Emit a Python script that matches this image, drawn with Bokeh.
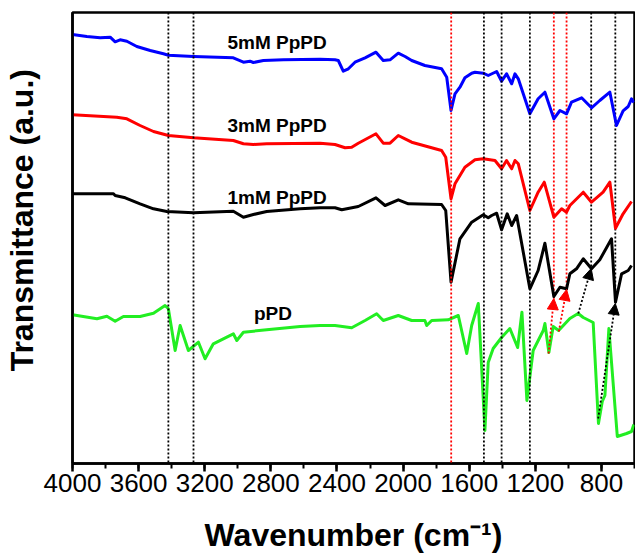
from bokeh.plotting import figure
from bokeh.models import Range1d, Span, Arrow, NormalHead, SingleIntervalTicker, FixedTicker
from bokeh.core.properties import value
from bokeh.embed import file_html
from bokeh.resources import INLINE

# ---- data (wavenumber cm-1, transmittance a.u. offset) ----
blue_w = [4000, 3913, 3833, 3772, 3742, 3712, 3671, 3611, 3530, 3450, 3420, 3268, 3027, 2966, 2926, 2906, 2845, 2724, 2502, 2412, 2392, 2362, 2331, 2291, 2230, 2164, 2120, 2079, 2029, 1988, 1948, 1868, 1767, 1736, 1710, 1686, 1656, 1626, 1585, 1565, 1515, 1485, 1434, 1404, 1374, 1343, 1323, 1303, 1233, 1183, 1142, 1088, 1051, 1011, 981, 920, 860, 810, 749, 709, 669, 638, 618, 604]
blue_t = [429, 427, 425.7, 426.3, 421.7, 423.7, 422.3, 417, 413, 409.7, 408.3, 407, 405.7, 401.3, 402.3, 401, 403, 403.7, 404.3, 403.7, 403, 392.3, 394.7, 401.3, 405.7, 411.3, 403, 403.7, 410.3, 407, 403, 398, 394.7, 386.3, 353, 369.7, 376.3, 385.7, 390.3, 391.3, 390.3, 388, 392, 382.3, 389.7, 379.7, 389.7, 384.7, 349.7, 364.7, 371.3, 344.7, 353, 349.7, 361.3, 365.7, 355.7, 363, 371.3, 338, 352.7, 357, 364.7, 361]

red_w = [4000, 3732, 3671, 3591, 3510, 3420, 3268, 3027, 2966, 2906, 2825, 2502, 2412, 2351, 2311, 2271, 2164, 2120, 2079, 2029, 1988, 1948, 1767, 1742, 1710, 1686, 1626, 1565, 1515, 1444, 1404, 1374, 1343, 1323, 1303, 1233, 1183, 1146, 1088, 1041, 1011, 991, 910, 860, 790, 749, 715, 669, 618]
red_t = [348.7, 346.3, 344.7, 338, 332, 328, 325.7, 323, 319.7, 319, 319.7, 320.3, 319, 315.7, 316.3, 320.3, 329.7, 320.3, 320.3, 328, 324.7, 321.3, 313, 306.3, 264.7, 279.7, 296.3, 303.7, 304.7, 303, 294.7, 303, 294.7, 303, 299.7, 253, 271.3, 281.3, 246.3, 254.7, 251.3, 258, 271.3, 261.3, 271.3, 281.3, 235.3, 249.7, 262]

black_w = [4000, 3752, 3742, 3681, 3591, 3510, 3429, 3268, 3027, 2966, 2906, 2825, 2623, 2502, 2412, 2371, 2271, 2164, 2109, 2029, 1968, 1767, 1742, 1710, 1656, 1585, 1515, 1485, 1464, 1434, 1404, 1370, 1343, 1313, 1233, 1183, 1142, 1088, 1051, 1011, 991, 951, 910, 860, 810, 739, 715, 678, 638, 618]
black_t = [269.7, 269.7, 268, 265.7, 259.7, 254.7, 252, 250.7, 252.3, 246.3, 249, 252, 254.7, 255.7, 255.7, 253.7, 257, 265.7, 258, 263.7, 259.7, 259, 253, 181.3, 224.7, 241.3, 248.7, 245.7, 248, 250.3, 233.7, 249.7, 238, 248, 174.7, 193, 220.3, 167, 176.3, 174.7, 189.7, 194.7, 204.7, 194.7, 203.7, 224.7, 161.3, 189.7, 193, 198]

green_w = [4000, 3852, 3792, 3742, 3692, 3591, 3510, 3440, 3420, 3379, 3349, 3299, 3238, 3198, 3148, 3027, 3006, 2966, 2825, 2623, 2502, 2412, 2311, 2230, 2160, 2120, 2029, 1948, 1868, 1857, 1827, 1727, 1666, 1615, 1585, 1545, 1505, 1485, 1455, 1404, 1354, 1307, 1281, 1251, 1213, 1152, 1142, 1118, 1092, 1059, 991, 941, 910, 850, 818, 795, 779, 755, 704, 648, 618, 604]
green_t = [148.7, 144.7, 147.3, 142.3, 147, 147, 150.3, 158, 154.7, 113, 138, 113, 121.3, 104.7, 119.7, 129.7, 123, 131.3, 133.7, 137, 138, 138, 135.7, 143, 149.7, 143, 148, 143, 143, 138, 143, 143.7, 148, 110, 138, 160, 33, 101, 115, 126, 135, 116, 151.3, 63, 113, 133, 140, 111, 137, 133, 145, 150, 146, 141, 40, 62, 68, 135, 27, 30, 32, 39]

series_names = ["5mM PpPD", "3mM PpPD", "1mM PpPD", "pPD"]
series_colors = ["#0000ff", "#ff0000", "#000000", "#22ee22"]
label_w = [2762, 2762, 2762, 2787]
label_t = [421, 338, 266, 150]

# guide lines (peak positions)
full_black = [3420, 3268, 1511, 1404, 1233]
full_red = [1709]
part_red_w = [1088, 1011]
part_red_bottom = [165, 174]
part_black_w = [862, 716]
part_black_bottom = [195, 160]

# arrows: tail on pPD curve -> head at PpPD band
arr_red_x0 = [1120, 1058]
arr_red_y0 = [110, 132]
arr_blk_x0 = [940, 820]
arr_blk_y0 = [150, 45]

YTOP = 451

p = figure(width=635, height=557, output_backend="svg", toolbar_location=None,
           x_range=Range1d(4000, 600), y_range=Range1d(0, YTOP),
           min_border_left=72, min_border_right=1, min_border_top=12, min_border_bottom=94)
p.background_fill_color = "white"
p.border_fill_color = "white"
p.xgrid.visible = False
p.ygrid.visible = False
p.outline_line_color = "black"
p.outline_line_width = 2.5
p.outline_line_alpha = 1

xa = p.xaxis[0]
xa.ticker = SingleIntervalTicker(interval=400, num_minor_ticks=2)
xa.axis_line_width = 2.5
xa.major_tick_line_width = 2.5
xa.minor_tick_line_width = 2
xa.major_tick_out = 8
xa.major_tick_in = 0
xa.minor_tick_out = 5
xa.minor_tick_in = 0
xa.major_label_standoff = 2
xa.major_label_text_font = "Liberation Sans"
xa.major_label_text_font_size = "26px"
xa.major_label_text_color = "black"
xa.axis_label = "Wavenumber (cm\u207b\u00b9)"
xa.axis_label_text_font = "Liberation Sans"
xa.axis_label_text_font_style = "bold"
xa.axis_label_text_font_size = "32px"
xa.axis_label_standoff = 22
xa.axis_label_text_color = "black"

ya = p.yaxis[0]
ya.ticker = FixedTicker(ticks=[])
ya.axis_line_width = 2.5
ya.major_tick_out = 0
ya.major_tick_in = 0
ya.minor_tick_out = 0
ya.minor_tick_in = 0
ya.major_label_standoff = 0
ya.axis_label = "\u00a0\u00a0\u00a0\u00a0Transmittance (a.u.)"
ya.axis_label_text_font = "Liberation Sans"
ya.axis_label_text_font_style = "bold"
ya.axis_label_text_font_size = "32px"
ya.axis_label_standoff = 33
ya.axis_label_text_color = "black"

# guide lines
for w in full_black:
    p.add_layout(Span(location=w, dimension="height", line_color="black",
                      line_dash="2 2", line_width=1.8))
for w in full_red:
    p.add_layout(Span(location=w, dimension="height", line_color="#ff0000",
                      line_dash="2 2", line_width=1.8))
p.segment(x0=part_red_w, y0=[YTOP] * len(part_red_w), x1=part_red_w, y1=part_red_bottom,
          line_color="#ff0000", line_dash="2 2", line_width=1.8)
p.segment(x0=part_black_w, y0=[YTOP] * len(part_black_w), x1=part_black_w, y1=part_black_bottom,
          line_color="black", line_dash="2 2", line_width=1.8)

# spectra
for xs, ys, c in [(blue_w, blue_t, series_colors[0]), (red_w, red_t, series_colors[1]),
                  (black_w, black_t, series_colors[2]), (green_w, green_t, series_colors[3])]:
    p.line(xs, ys, line_color=c, line_width=3, line_join="round")

# arrows
for x0, y0, x1, y1 in zip(arr_red_x0, arr_red_y0, part_red_w, part_red_bottom):
    p.add_layout(Arrow(end=NormalHead(size=11, fill_color="#ff0000", line_color="#ff0000"),
                       x_start=x0, y_start=y0, x_end=x1, y_end=y1,
                       line_color="#ff0000", line_dash="2 2", line_width=1.8))
for x0, y0, x1, y1 in zip(arr_blk_x0, arr_blk_y0, part_black_w, part_black_bottom):
    p.add_layout(Arrow(end=NormalHead(size=11, fill_color="black", line_color="black"),
                       x_start=x0, y_start=y0, x_end=x1, y_end=y1,
                       line_color="black", line_dash="2 2", line_width=1.8))

p.text(x=label_w, y=label_t, text=series_names, text_align="center", text_baseline="middle",
       text_font=value("Liberation Sans"), text_font_style="bold", text_font_size="19px",
       text_color="black")

open("out.html", "w").write(file_html(p, INLINE))
